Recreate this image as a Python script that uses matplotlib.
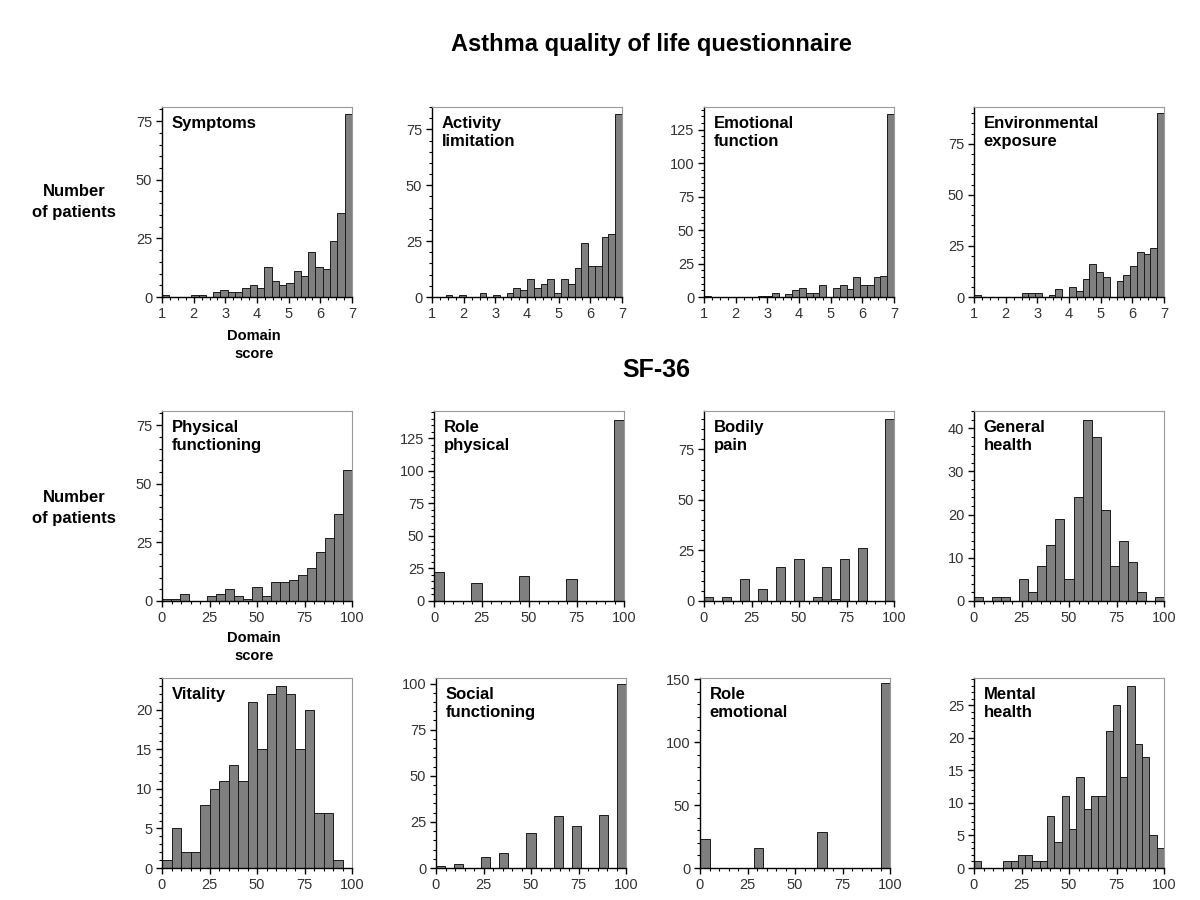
import numpy as np
import matplotlib.pyplot as plt
from matplotlib.ticker import MultipleLocator

plt.rcParams['font.family'] = ['Liberation Sans', 'DejaVu Sans']

# ---- AQLQ domains, score 1..7 (counts per bin) ----
symptoms = [1, 0, 0, 0, 1, 1, 0, 2, 3, 2, 2, 4, 5, 4, 13, 7, 5, 6, 11, 9, 19, 13, 12, 24, 36, 78]
activity = [0, 0, 1, 0, 1, 0, 0, 2, 0, 1, 0, 2, 4, 3, 8, 4, 6, 8, 2, 8, 6, 13, 24, 14, 14, 27, 28, 82]
emotional = [1, 0, 0, 0, 0, 0, 0, 0, 1, 1, 3, 0, 2, 5, 7, 3, 3, 9, 0, 7, 9, 6, 15, 9, 9, 15, 16, 137]
environmental = [1, 0, 0, 0, 0, 0, 0, 2, 2, 2, 0, 1, 4, 0, 5, 3, 9, 16, 12, 10, 0, 8, 11, 15, 22, 21, 24, 90]

# ---- SF-36 domains, score 0..100 ----
physical = [1, 1, 3, 0, 0, 2, 3, 5, 2, 1, 6, 2, 8, 8, 9, 11, 14, 21, 27, 37, 56]
bodily_pain = [2, 0, 2, 0, 11, 0, 6, 0, 17, 0, 21, 0, 2, 17, 1, 21, 0, 26, 0, 0, 90]
general_health = [1, 0, 1, 1, 0, 5, 2, 8, 13, 19, 5, 24, 42, 38, 21, 8, 14, 9, 2, 0, 1]
vitality = [1, 5, 2, 2, 8, 10, 11, 13, 11, 21, 15, 22, 23, 22, 15, 20, 7, 7, 1, 0]
social = [1, 0, 2, 0, 0, 6, 0, 8, 0, 0, 19, 0, 0, 28, 0, 23, 0, 0, 29, 0, 100]
mental_health = [1, 0, 0, 0, 1, 1, 2, 2, 1, 1, 8, 4, 11, 6, 14, 9, 11, 11, 21, 25, 14, 28, 19, 17, 5, 3]

# discrete scored domains: bar ends at the score value
role_phys_scores = [0, 25, 50, 75, 100]
role_phys_counts = [22, 14, 19, 17, 139]
role_emo_scores = [0, 33.3, 66.7, 100]
role_emo_counts = [23, 16, 29, 147]

BAR = '#7f7f7f'
EDGE = '#1a1a1a'


def style_axes(ax, xlim, xmaj, xmin, ylim, ymaj, ymin):
    ax.set_xlim(*xlim)
    ax.set_ylim(*ylim)
    ax.xaxis.set_major_locator(MultipleLocator(xmaj))
    ax.xaxis.set_minor_locator(MultipleLocator(xmin))
    ax.yaxis.set_major_locator(MultipleLocator(ymaj))
    ax.yaxis.set_minor_locator(MultipleLocator(ymin))
    for s in ['left', 'bottom']:
        ax.spines[s].set_color('black')
        ax.spines[s].set_linewidth(1.0)
    for s in ['top', 'right']:
        ax.spines[s].set_color('#9a9a9a')
        ax.spines[s].set_linewidth(0.8)
    ax.tick_params(which='major', direction='out', length=4, width=1,
                   labelsize=10.5, labelcolor='#333333', pad=3)
    ax.tick_params(which='minor', direction='out', length=2, width=0.8)
    ax.tick_params(top=False, right=False)


def hist_panel(ax, counts, lo, hi):
    counts = np.asarray(counts)
    edges = np.linspace(lo, hi, len(counts) + 1)
    keep = counts > 0
    ax.bar(edges[:-1][keep], counts[keep], width=np.diff(edges)[keep],
           align='edge', color=BAR, edgecolor=EDGE, linewidth=0.7, zorder=2)


def score_panel(ax, scores, counts, w):
    left = np.clip(np.asarray(scores) - w, 0, None)
    ax.bar(left, counts, width=w, align='edge', color=BAR, edgecolor=EDGE,
           linewidth=0.7, zorder=2)


def label(ax, txt):
    ax.text(0.05, 0.955, txt, transform=ax.transAxes, ha='left', va='top',
            fontsize=12, fontweight='bold', linespacing=1.3)


fig = plt.figure(figsize=(12, 9), dpi=100)
W, H = 190 / 1200, 190 / 900


def add_ax(left_px, bottom_px):
    return fig.add_axes([left_px / 1200, 1 - bottom_px / 900, W, H])


# row 1 - AQLQ
aqlq = [
    (162, symptoms, 'Symptoms', 81),
    (432, activity, 'Activity\nlimitation', 85),
    (704, emotional, 'Emotional\nfunction', 142),
    (974, environmental, 'Environmental\nexposure', 93),
]
for left, data, name, ytop in aqlq:
    ax = add_ax(left, 297)
    hist_panel(ax, data, 1, 7)
    style_axes(ax, (1, 7), 1, 0.25, (0, ytop), 25, 5)
    label(ax, name)

# row 2 - SF-36
ax = add_ax(162, 601)
hist_panel(ax, physical, 0, 100)
style_axes(ax, (0, 100), 25, 5, (0, 81), 25, 5)
label(ax, 'Physical\nfunctioning')

ax = add_ax(434, 601)
score_panel(ax, role_phys_scores, role_phys_counts, 5.5)
style_axes(ax, (0, 100), 25, 5, (0, 146), 25, 5)
label(ax, 'Role\nphysical')

ax = add_ax(704, 601)
hist_panel(ax, bodily_pain, 0, 100)
style_axes(ax, (0, 100), 25, 5, (0, 94), 25, 5)
label(ax, 'Bodily\npain')

ax = add_ax(974, 601)
hist_panel(ax, general_health, 0, 100)
style_axes(ax, (0, 100), 25, 5, (0, 44), 10, 2)
label(ax, 'General\nhealth')

# row 3 - SF-36
ax = add_ax(162, 868)
hist_panel(ax, vitality, 0, 100)
style_axes(ax, (0, 100), 25, 5, (0, 24), 5, 1)
label(ax, 'Vitality')

ax = add_ax(436, 868)
hist_panel(ax, social, 0, 100)
style_axes(ax, (0, 100), 25, 5, (0, 103), 25, 5)
label(ax, 'Social\nfunctioning')

ax = add_ax(700, 868)
score_panel(ax, role_emo_scores, role_emo_counts, 5)
style_axes(ax, (0, 100), 25, 5, (0, 151), 50, 10)
label(ax, 'Role\nemotional')

ax = add_ax(974, 868)
hist_panel(ax, mental_health, 0, 100)
style_axes(ax, (0, 100), 25, 5, (0, 29.2), 5, 1)
label(ax, 'Mental\nhealth')

# headings and shared labels
fig.text(651 / 1200, 1 - 45 / 900, 'Asthma quality of life questionnaire',
         ha='center', va='center', fontsize=17, fontweight='bold')
fig.text(656 / 1200, 1 - 370 / 900, 'SF-36', ha='center', va='center',
         fontsize=18, fontweight='bold')
for yc in (202, 508):
    fig.text(74 / 1200, 1 - yc / 900, 'Number\nof patients', ha='center',
             va='center', fontsize=12, fontweight='bold', linespacing=1.45)
for yc in (345, 647):
    fig.text(254 / 1200, 1 - yc / 900, 'Domain\nscore', ha='center',
             va='center', fontsize=10.5, fontweight='bold', linespacing=1.35)

fig.savefig('out.png', dpi=100, facecolor='white')
